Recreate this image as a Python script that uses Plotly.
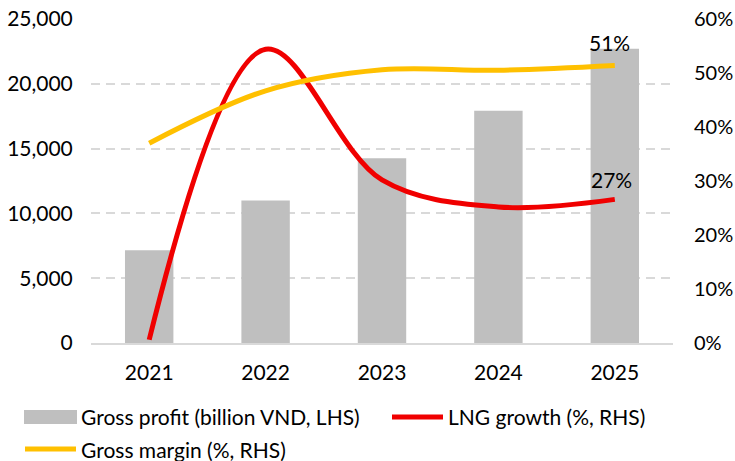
import plotly.graph_objects as go

years = ["2021", "2022", "2023", "2024", "2025"]
gross_profit = [7150, 11000, 14250, 17930, 22710]
lng_growth = [0.6, 54.4, 30.2, 25.2, 26.6]
gross_margin = [37.0, 46.7, 50.6, 50.5, 51.4]

left_ticks = [0, 5000, 10000, 15000, 20000, 25000]
right_ticks = [0, 10, 20, 30, 40, 50, 60]
right_labels = [f"{v}%" for v in right_ticks]

FONT = "Lato"
FS = 21
W, H = 735, 461
ML, MR, MT, MB = 91, 62, 19, 118

def px_x(p):
    return (p - ML) / (W - ML - MR)

def px_y(p):
    return (H - MB - p) / (H - MT - MB)

fig = go.Figure()
fig.add_trace(go.Bar(x=years, y=gross_profit, marker=dict(color="#bfbfbf", line=dict(width=0)),
                     name="Gross profit (billion VND, LHS)", showlegend=False))
fig.add_trace(go.Scatter(x=years, y=lng_growth, yaxis="y2", mode="lines",
                         line=dict(color="#f00000", width=5, shape="spline", smoothing=1.0),
                         name="LNG growth (%, RHS)", showlegend=False))
fig.add_trace(go.Scatter(x=years, y=gross_margin, yaxis="y2", mode="lines",
                         line=dict(color="#ffc000", width=5, shape="spline", smoothing=1.0),
                         name="Gross margin (%, RHS)", showlegend=False))

last = len(years) - 1
# end-point labels
fig.add_annotation(x=last, y=gross_margin[-1], xref="x", yref="y2", text=f"{gross_margin[-1]:.0f}%",
                   showarrow=False, yshift=23, xshift=-5, font=dict(family=FONT, size=FS, color="#000"))
fig.add_annotation(x=last, y=lng_growth[-1], xref="x", yref="y2", text=f"{lng_growth[-1]:.0f}%",
                   showarrow=False, yshift=20, xshift=-3, font=dict(family=FONT, size=FS, color="#000"))

# custom legend
shapes = [
    dict(type="rect", xref="paper", yref="paper", x0=px_x(24), x1=px_x(77), y0=px_y(424), y1=px_y(410),
         fillcolor="#bfbfbf", line=dict(width=0)),
    dict(type="line", xref="paper", yref="paper", x0=px_x(392), x1=px_x(443), y0=px_y(417), y1=px_y(417),
         line=dict(color="#f00000", width=5)),
    dict(type="line", xref="paper", yref="paper", x0=px_x(25), x1=px_x(76), y0=px_y(449), y1=px_y(449),
         line=dict(color="#ffc000", width=5)),
]
fig.update_layout(shapes=shapes)
legend_texts = [("Gross profit (billion VND, LHS)", 82, 417),
                ("LNG growth (%, RHS)", 449, 417),
                ("Gross margin (%, RHS)", 82, 449)]
for t, x, y in legend_texts:
    fig.add_annotation(xref="paper", yref="paper", x=px_x(x), y=px_y(y), text=t, showarrow=False,
                       xanchor="left", yanchor="middle", xshift=-3, font=dict(family=FONT, size=FS, color="#000"))

fig.update_layout(
    width=W, height=H,
    margin=dict(l=ML, r=MR, t=MT, b=MB, autoexpand=False),
    paper_bgcolor="white", plot_bgcolor="white",
    font=dict(family=FONT, size=FS, color="#000"),
    bargap=0.584,
    xaxis=dict(type="category", range=[-0.5, 4.5], showline=True, linecolor="#d9d9d9", linewidth=1.5,
               showgrid=False, ticks="outside", ticklen=10, tickcolor="rgba(0,0,0,0)", automargin=False),
    yaxis=dict(range=[0, 25000], tickvals=left_ticks, tickformat=",", showgrid=True,
               gridcolor="#d9d9d9", gridwidth=1.5, griddash="9px,6px", zeroline=False,
               ticks="outside", ticklen=13, tickcolor="rgba(0,0,0,0)", automargin=False),
    yaxis2=dict(range=[0, 60], tickvals=right_ticks, ticktext=right_labels, overlaying="y", side="right",
                showgrid=False, zeroline=False, ticks="outside", ticklen=16, tickcolor="rgba(0,0,0,0)",
                tickfont=dict(family=FONT, size=20, color="#000"), automargin=False),
    showlegend=False,
)

fig.write_html("out.html", config={"displayModeBar": False, "responsive": False},
               post_script="document.body.style.margin='0';document.body.style.overflow='hidden';")
